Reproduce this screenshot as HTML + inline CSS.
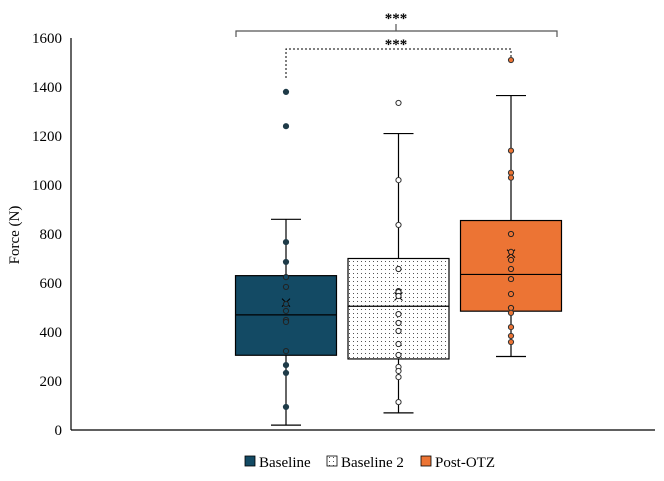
<!DOCTYPE html>
<html><head><meta charset="utf-8"><style>
body{margin:0;background:#fff}
svg text{font-family:"Liberation Serif",serif;fill:#000}
</style></head><body>
<svg id="c" width="664" height="476" xmlns="http://www.w3.org/2000/svg">
<defs><pattern id="dots" width="4" height="4" patternUnits="userSpaceOnUse"><rect width="4" height="4" fill="#fff"/><rect x="1" y="1" width="1" height="1" fill="#555"/></pattern></defs>
</svg>
<script>
const categories=["Baseline","Baseline 2","Post-OTZ"];
const whiskerLow=[20,70,300];
const whiskerHigh=[860,1210,1365];
const q1=[305,290,485];
const q3=[630,700,855];
const medians=[470,505,635];
const means=[520,545,720];
const pointsBaseline=[1380,1240,767,686,624,584,514,486,449,441,322,265,233,94];
const pointsBaseline2=[1335,1020,837,657,567,563,547,473,437,404,351,306,257,241,216,114];
const pointsPost=[1510,1140,1050,1030,800,727,694,657,616,555,498,478,420,384,359];
const yTicks=[0,200,400,600,800,1000,1200,1400,1600];
const fills=["#134a64","url(#dots)","#ec7434"];
const dotFill=["#1f3b48","#fff","#ec7434"];
const svg=document.getElementById('c');
const NS="http://www.w3.org/2000/svg";
const y=v=>430-v*392/1600;
const xc=i=>286+i*112.5;
function mk(t,a,p){const e=document.createElementNS(NS,t);for(const k in a)e.setAttribute(k,a[k]);(p||svg).appendChild(e);return e;}
let ax=mk('line',{x1:71,y1:38,x2:71,y2:430,stroke:'#000','stroke-width':1.2});


let bx=mk('line',{x1:71,y1:430,x2:655,y2:430,stroke:'#000','stroke-width':1.2});


yTicks.forEach(v=>{const t=mk('text',{x:62,y:y(v)+5,'text-anchor':'end','font-size':15});t.textContent=v;

});
let yt=mk('text',{x:0,y:0,'font-size':15,'text-anchor':'middle',transform:'translate(19,235) rotate(-90)'});yt.textContent='Force (N)';


const pts=[pointsBaseline,pointsBaseline2,pointsPost];
categories.forEach((c,i)=>{
 const g=mk('g',{});
 
 
 const x=xc(i),w=101,l=x-w/2;
 mk('line',{x1:x,y1:y(whiskerLow[i]),x2:x,y2:y(whiskerHigh[i]),stroke:'#000','stroke-width':1.2},g);
 mk('line',{x1:x-15,y1:y(whiskerLow[i]),x2:x+15,y2:y(whiskerLow[i]),stroke:'#000','stroke-width':1.2},g);
 mk('line',{x1:x-15,y1:y(whiskerHigh[i]),x2:x+15,y2:y(whiskerHigh[i]),stroke:'#000','stroke-width':1.2},g);
 mk('rect',{x:l,y:y(q3[i]),width:w,height:y(q1[i])-y(q3[i]),fill:fills[i],stroke:'#000','stroke-width':1.2},g);
 mk('line',{x1:l,y1:y(medians[i]),x2:l+w,y2:y(medians[i]),stroke:'#000','stroke-width':1.2},g);
 const m=y(means[i]);
 mk('path',{d:`M${x-4},${m-4}L${x+4},${m+4}M${x+4},${m-4}L${x-4},${m+4}`,stroke:'#000','stroke-width':1},g);
 pts[i].forEach(v=>{const inside=v>=q1[i]&&v<=q3[i];
  const cc=mk('circle',{cx:x,cy:y(v),r:2.6,fill:inside?(fills[i]==='url(#dots)'?'#fff':fills[i]):dotFill[i],stroke:inside?'#222':(i===0?'#1f3b48':'#333'),'stroke-width':1},g);
  
  });
});
let b1=mk('path',{d:`M236,37 L236,31 L557,31 L557,37 M396,31 L396,24`,stroke:'#555','stroke-width':1.2,fill:'none'});


let b2=mk('path',{d:`M286,78 L286,49 L511,49 L511,57`,stroke:'#000','stroke-width':1,fill:'none','stroke-dasharray':'2,2'});


[[18,'significance-label-outer'],[44,'significance-label-inner']].forEach(([yy,n])=>{const t=mk('text',{x:396,y:yy+5,'text-anchor':'middle','font-size':15,'font-weight':'bold',fill:'#333'});t.textContent='***';

});
const lx=[240,322,416],ls=[fills[0],'url(#dots)',fills[2]];
categories.forEach((c,i)=>{const g=mk('g',{});
 
 
 mk('rect',{x:lx[i]+5,y:456,width:10,height:10,fill:ls[i],stroke:'#000','stroke-width':0.8},g);
 const t=mk('text',{x:lx[i]+19,y:467,'font-size':15},g);t.textContent=c;});
</script>
</body></html>
